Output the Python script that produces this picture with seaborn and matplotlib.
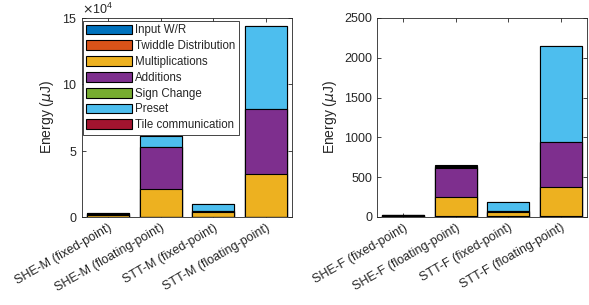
import matplotlib

matplotlib.use("Agg")
import matplotlib.pyplot as plt
import numpy as np
import pandas as pd
import seaborn as sns
from matplotlib.patches import Patch

# components, in stacking order (bottom -> top)
COMPONENTS = [
    "Input W/R",
    "Twiddle Distribution",
    "Multiplications",
    "Additions",
    "Sign Change",
    "Preset",
    "Tile communication",
]
COLORS = ["#0072BD", "#D95319", "#EDB120", "#7E2F8E", "#77AC30", "#4DBEEE", "#A2142F"]

# left panel (uJ)
cats_m = ["SHE-M (fixed-point)", "SHE-M (floating-point)", "STT-M (fixed-point)", "STT-M (floating-point)"]
input_wr_m = [100, 100, 100, 100]
twiddle_m = [50, 50, 50, 50]
mult_m = [1500, 20900, 3300, 32400]
add_m = [500, 31400, 700, 48800]
sign_m = [50, 50, 50, 50]
preset_m = [400, 8500, 5700, 62400]
tile_m = [100, 100, 100, 100]

# right panel (uJ)
cats_f = ["SHE-F (fixed-point)", "SHE-F (floating-point)", "STT-F (fixed-point)", "STT-F (floating-point)"]
input_wr_f = [3, 3, 3, 3]
twiddle_f = [2, 2, 2, 2]
mult_f = [10, 245, 57, 370]
add_f = [5, 370, 15, 562]
sign_f = [1, 8, 2, 2]
preset_f = [3, 12, 104, 1207]
tile_f = [2, 8, 4, 8]

TEXT = "#262626"


def stacked(ax, cats, series):
    vals = np.array(series, dtype=float)
    cum = np.cumsum(vals, axis=0)
    # draw from the top layer down so lower layers sit on top
    for i in range(len(series) - 1, -1, -1):
        df = pd.DataFrame({"cat": cats, "val": cum[i]})
        sns.barplot(
            data=df, x="cat", y="val", order=cats, color=COLORS[i],
            saturation=1, edgecolor="black", linewidth=0.8, width=0.8, ax=ax,
        )
    ax.set_xlim(-0.5, len(cats) - 0.5)
    ax.set_xlabel("")
    ax.set_ylabel("Energy ($\\mu$J)", fontsize=10, color=TEXT)
    ax.tick_params(direction="in", length=3, width=0.6, top=True, right=True,
                   labelsize=9, colors=TEXT)
    ax.set_xticks(range(len(cats)))
    ax.set_xticklabels(cats, rotation=30, ha="right", rotation_mode="anchor")
    for s in ax.spines.values():
        s.set_visible(True)
        s.set_color(TEXT)
        s.set_linewidth(0.6)


sns.set_style("ticks")
plt.rcParams["font.family"] = ["Liberation Sans", "DejaVu Sans"]

fig = plt.figure(figsize=(5.89, 3.05), dpi=100)
ax1 = fig.add_axes([0.139, 0.289, 0.357, 0.652])
ax2 = fig.add_axes([0.640, 0.289, 0.357, 0.652])

stacked(ax1, cats_m, [input_wr_m, twiddle_m, mult_m, add_m, sign_m, preset_m, tile_m])
ax1.set_ylim(0, 150000)
ax1.set_yticks([0, 50000, 100000, 150000])
ax1.ticklabel_format(style="sci", axis="y", scilimits=(4, 4), useMathText=True)
ax1.yaxis.get_offset_text().set_fontsize(9)
ax1.yaxis.get_offset_text().set_color(TEXT)

stacked(ax2, cats_f, [input_wr_f, twiddle_f, mult_f, add_f, sign_f, preset_f, tile_f])
ax2.set_ylim(0, 2500)
ax2.set_yticks(range(0, 2501, 500))

handles = [Patch(facecolor=c, edgecolor="black", linewidth=0.8) for c in COLORS]
leg = ax1.legend(
    handles, COMPONENTS, loc="upper left", bbox_to_anchor=(0.004, 0.985),
    borderaxespad=0, fontsize=8.3, handlelength=4.0, handleheight=0.95,
    labelspacing=0.33, handletextpad=0.25, borderpad=0.3, fancybox=False,
    framealpha=1, edgecolor=TEXT,
)
leg.get_frame().set_linewidth(0.6)

fig.savefig("out.png", dpi=100)
